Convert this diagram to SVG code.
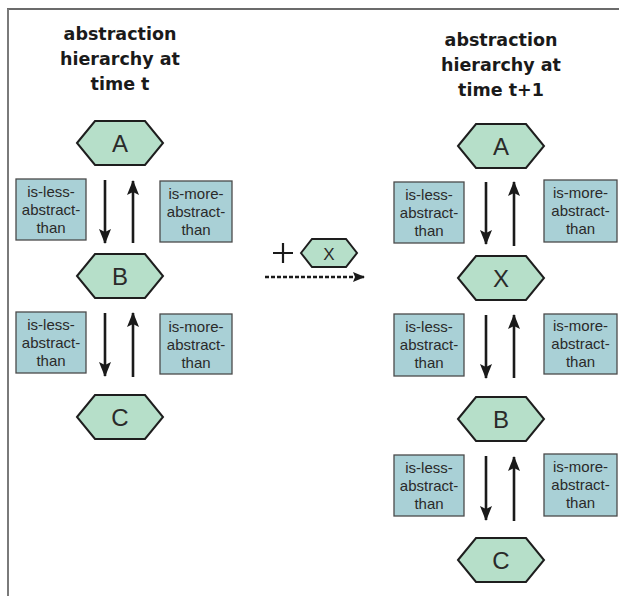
<svg xmlns="http://www.w3.org/2000/svg" width="619" height="597" viewBox="0 0 619 597">
  <style>
    .title { font-family: "DejaVu Sans", "Liberation Sans", sans-serif; font-weight: bold; font-size: 17.5px; fill: #1a1a1a; text-anchor: middle; }
    .hex { fill: #b6dfc9; stroke: #1e1e1e; stroke-width: 2; stroke-linejoin: miter; }
    .hexlabel { font-family: "Liberation Sans", Arial, sans-serif; font-size: 24px; fill: #2a2a2a; text-anchor: middle; }
    .box { fill: #a9d0d6; stroke: #4a4a4a; stroke-width: 1.3; }
    .boxlabel { font-family: "Liberation Sans", Arial, sans-serif; font-size: 15px; fill: #2a2a2a; text-anchor: middle; }
    .arrow { stroke: #1a1a1a; stroke-width: 2.6; fill: none; marker-end: url(#ah); }
    .dashed { stroke: #1a1a1a; stroke-width: 2.5; fill: none; stroke-dasharray: 4 2; marker-end: url(#ahs); }
  </style>
  <defs>
    <path id="hexshape" d="M-43,0 L-25,-22 L25,-22 L43,0 L25,22 L-25,22 Z"/>
    <marker id="ah" viewBox="0 0 15 12" refX="14" refY="6" markerWidth="15" markerHeight="12" markerUnits="userSpaceOnUse" orient="auto">
      <path d="M0,0 L15,6 L0,12 L3,6 Z" fill="#1a1a1a"/>
    </marker>
    <marker id="ahs" viewBox="0 0 12 10" refX="11" refY="5" markerWidth="12" markerHeight="10" markerUnits="userSpaceOnUse" orient="auto">
      <path d="M0,0 L12,5 L0,10 L2,5 Z" fill="#1a1a1a"/>
    </marker>
  </defs>

  <rect width="619" height="597" fill="#ffffff"/>

  <!-- frame -->
  <g id="frame">
    <line x1="7" y1="9" x2="619" y2="9" stroke="#3a3a3a" stroke-width="1.6"/>
    <line x1="8" y1="9" x2="8" y2="596" stroke="#7a7a7a" stroke-width="2"/>
  </g>

  <!-- titles -->
  <g id="title-left">
    <text class="title" x="120" y="40">abstraction</text>
    <text class="title" x="120" y="65">hierarchy at</text>
    <text class="title" x="120" y="90">time t</text>
  </g>
  <g id="title-right">
    <text class="title" x="501" y="46">abstraction</text>
    <text class="title" x="501" y="71">hierarchy at</text>
    <text class="title" x="501" y="96">time t+1</text>
  </g>

  <!-- left hierarchy nodes -->
  <g id="left-A" transform="translate(120,143)">
    <use href="#hexshape" class="hex"/>
    <text class="hexlabel" x="0" y="8.5">A</text>
  </g>
  <g id="left-B" transform="translate(120,276)">
    <use href="#hexshape" class="hex"/>
    <text class="hexlabel" x="0" y="8.5">B</text>
  </g>
  <g id="left-C" transform="translate(120,417)">
    <use href="#hexshape" class="hex"/>
    <text class="hexlabel" x="0" y="8.5">C</text>
  </g>

  <!-- right hierarchy nodes -->
  <g id="right-A" transform="translate(501,146)">
    <use href="#hexshape" class="hex"/>
    <text class="hexlabel" x="0" y="8.5">A</text>
  </g>
  <g id="right-X" transform="translate(501,278)">
    <use href="#hexshape" class="hex"/>
    <text class="hexlabel" x="0" y="8.5">X</text>
  </g>
  <g id="right-B" transform="translate(501,419)">
    <use href="#hexshape" class="hex"/>
    <text class="hexlabel" x="0" y="8.5">B</text>
  </g>
  <g id="right-C" transform="translate(501,560)">
    <use href="#hexshape" class="hex"/>
    <text class="hexlabel" x="0" y="8.5">C</text>
  </g>

  <!-- inserted node -->
  <g id="insert-X">
    <path d="M273,253 L293,253 M283,243 L283,263" stroke="#1a1a1a" stroke-width="2.2"/>
    <path d="M301,253 L312,239 L346,239 L357,253 L346,267 L312,267 Z" class="hex"/>
    <text class="hexlabel" x="329" y="259.5" style="font-size:17px">X</text>
  </g>

  <!-- relation labels -->
  <g id="labels-left">
    <g id="lbl-l1">
      <rect class="box" x="16" y="179" width="70" height="61"/>
      <text class="boxlabel" x="51" y="197">is-less-</text>
      <text class="boxlabel" x="51" y="215">abstract-</text>
      <text class="boxlabel" x="51" y="233">than</text>
    </g>
    <g id="lbl-r1">
      <rect class="box" x="160" y="181" width="72" height="61"/>
      <text class="boxlabel" x="196" y="199">is-more-</text>
      <text class="boxlabel" x="196" y="217">abstract-</text>
      <text class="boxlabel" x="196" y="235">than</text>
    </g>
    <g id="lbl-l2">
      <rect class="box" x="16" y="312" width="70" height="61"/>
      <text class="boxlabel" x="51" y="330">is-less-</text>
      <text class="boxlabel" x="51" y="348">abstract-</text>
      <text class="boxlabel" x="51" y="366">than</text>
    </g>
    <g id="lbl-r2">
      <rect class="box" x="160" y="314" width="72" height="60"/>
      <text class="boxlabel" x="196" y="332">is-more-</text>
      <text class="boxlabel" x="196" y="350">abstract-</text>
      <text class="boxlabel" x="196" y="368">than</text>
    </g>
  </g>

  <g id="labels-right">
    <g id="lbl-l3">
      <rect class="box" x="394" y="182" width="70" height="61"/>
      <text class="boxlabel" x="429" y="200">is-less-</text>
      <text class="boxlabel" x="429" y="218">abstract-</text>
      <text class="boxlabel" x="429" y="236">than</text>
    </g>
    <g id="lbl-r3">
      <rect class="box" x="544" y="180" width="73" height="62"/>
      <text class="boxlabel" x="580.5" y="198">is-more-</text>
      <text class="boxlabel" x="580.5" y="216">abstract-</text>
      <text class="boxlabel" x="580.5" y="234">than</text>
    </g>
    <g id="lbl-l4">
      <rect class="box" x="394" y="314" width="70" height="62"/>
      <text class="boxlabel" x="429" y="332">is-less-</text>
      <text class="boxlabel" x="429" y="350">abstract-</text>
      <text class="boxlabel" x="429" y="368">than</text>
    </g>
    <g id="lbl-r4">
      <rect class="box" x="544" y="314" width="73" height="60"/>
      <text class="boxlabel" x="580.5" y="331">is-more-</text>
      <text class="boxlabel" x="580.5" y="349">abstract-</text>
      <text class="boxlabel" x="580.5" y="367">than</text>
    </g>
    <g id="lbl-l5">
      <rect class="box" x="394" y="455" width="70" height="61"/>
      <text class="boxlabel" x="429" y="473">is-less-</text>
      <text class="boxlabel" x="429" y="491">abstract-</text>
      <text class="boxlabel" x="429" y="509">than</text>
    </g>
    <g id="lbl-r5">
      <rect class="box" x="544" y="454" width="73" height="62"/>
      <text class="boxlabel" x="580.5" y="472">is-more-</text>
      <text class="boxlabel" x="580.5" y="490">abstract-</text>
      <text class="boxlabel" x="580.5" y="508">than</text>
    </g>
  </g>

  <!-- connectors -->
  <g id="connectors">
    <line class="arrow" x1="105" y1="180" x2="105" y2="243"/>
    <line class="arrow" x1="133" y1="243" x2="133" y2="181"/>
    <line class="arrow" x1="105" y1="313" x2="105" y2="376"/>
    <line class="arrow" x1="133" y1="377" x2="133" y2="313"/>

    <line class="arrow" x1="486" y1="182" x2="486" y2="244"/>
    <line class="arrow" x1="514" y1="246" x2="514" y2="182"/>
    <line class="arrow" x1="486" y1="315" x2="486" y2="378"/>
    <line class="arrow" x1="514" y1="378" x2="514" y2="315"/>
    <line class="arrow" x1="486" y1="456" x2="486" y2="520"/>
    <line class="arrow" x1="514" y1="521" x2="514" y2="457"/>

    <line class="dashed" x1="265" y1="277" x2="364" y2="277"/>
  </g>
</svg>
